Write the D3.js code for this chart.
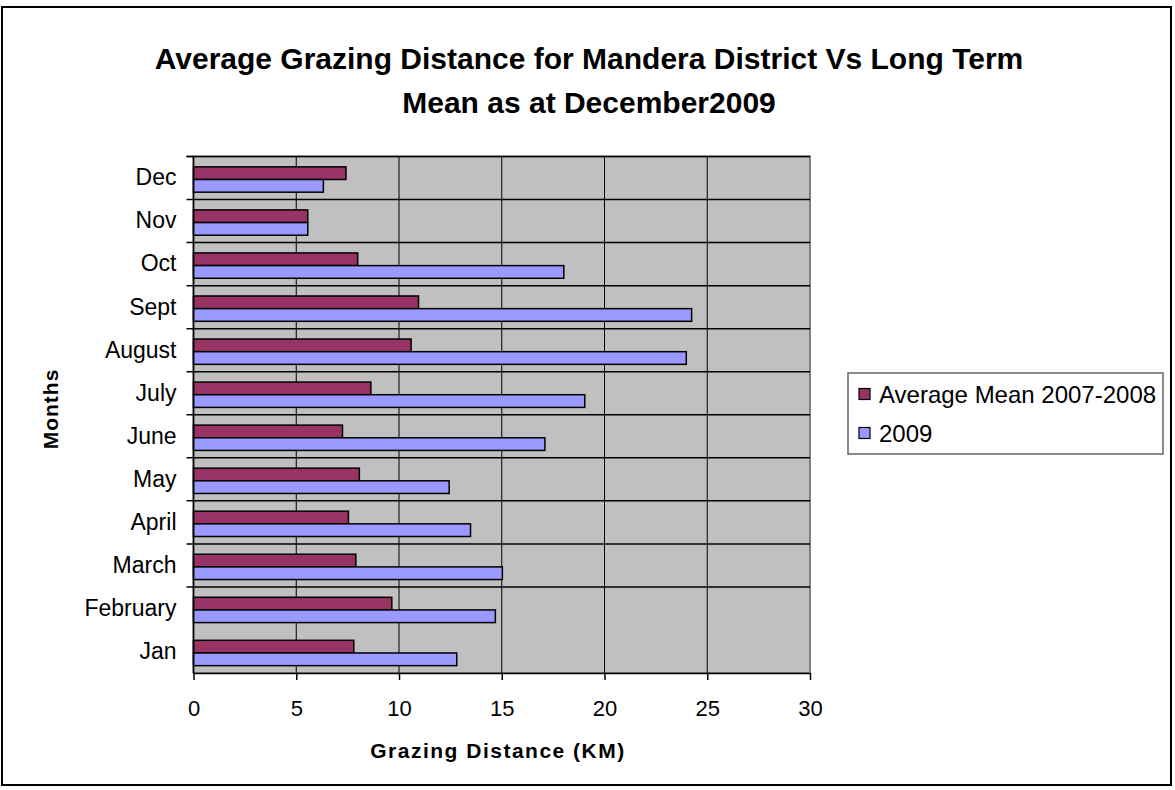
<!DOCTYPE html>
<html>
<head>
<meta charset="utf-8">
<script src="https://cdn.jsdelivr.net/npm/d3@7"></script>
<style>
  body { margin: 0; background: #fff; }
  text { font-family: "Liberation Sans", Arial, sans-serif; fill: #000; }
</style>
</head>
<body>
<svg id="chart" width="1175" height="790"></svg>
<script>
// months, bottom to top as in the chart
var months = ['Jan', 'February', 'March', 'April', 'May', 'June', 'July', 'August', 'Sept', 'Oct', 'Nov', 'Dec'];
var seriesNames = ['Average Mean 2007-2008', '2009'];
var avgMean = [7.8, 9.65, 7.9, 7.54, 8.07, 7.25, 8.63, 10.59, 10.95, 7.99, 5.56, 7.42];
var year2009 = [12.81, 14.69, 15.03, 13.48, 12.44, 17.1, 19.04, 23.98, 24.24, 18.02, 5.56, 6.32];
var xTicks = [0, 5, 10, 15, 20, 25, 30];
var colors = ['#993366', '#9999FF'];

var svg = d3.select('#chart');

var plot = { left: 193.5, top: 156.5, right: 810, bottom: 673 };

// outer frame
svg.append('rect')
	.attr('x', 2).attr('y', 7)
	.attr('width', 1169).attr('height', 778)
	.attr('fill', 'white').attr('stroke', 'black').attr('stroke-width', 2);

// title
var title = svg.append('text')
	.attr('text-anchor', 'middle')
	.style('font-size', '30px').style('font-weight', 'bold');
title.append('tspan').attr('x', 589).attr('y', 69).text('Average Grazing Distance for Mandera District Vs Long Term');
title.append('tspan').attr('x', 589).attr('y', 113).text('Mean as at December2009');

var x = d3.scaleLinear().domain([0, 30]).range([plot.left, plot.right]);
var y = d3.scaleBand().domain(months.slice().reverse()).range([plot.top, plot.bottom]);
var inner = d3.scaleBand().domain(seriesNames).range([0, y.bandwidth()]).paddingOuter(0.7);

// plot background
svg.append('rect')
	.attr('x', plot.left).attr('y', plot.top)
	.attr('width', plot.right - plot.left).attr('height', plot.bottom - plot.top)
	.attr('fill', '#C0C0C0').attr('stroke', '#808080').attr('stroke-width', 2);

// gridlines
svg.append('g').selectAll('line.v').data(xTicks.slice(1, -1)).enter().append('line')
	.attr('x1', function(d) { return x(d); }).attr('x2', function(d) { return x(d); })
	.attr('y1', plot.top).attr('y2', plot.bottom)
	.attr('stroke', 'black').attr('stroke-width', 1);

var bounds = months.map(function(m) { return y(m); });
svg.append('g').selectAll('line.h').data(bounds.slice(1)).enter().append('line')
	.attr('x1', plot.left - 7).attr('x2', plot.right)
	.attr('y1', function(d) { return d; }).attr('y2', function(d) { return d; })
	.attr('stroke', 'black').attr('stroke-width', 1.5);

// bars
var rows = months.map(function(m, i) { return { month: m, values: [avgMean[i], year2009[i]] }; });
var groups = svg.append('g').selectAll('g').data(rows).enter().append('g')
	.attr('transform', function(d) { return 'translate(0,' + (y(d.month) + 1.5) + ')'; });
groups.selectAll('rect').data(function(d) { return d.values; }).enter().append('rect')
	.attr('x', x(0))
	.attr('y', function(d, i) { return inner(seriesNames[i]); })
	.attr('width', function(d) { return x(d) - x(0); })
	.attr('height', inner.bandwidth())
	.attr('fill', function(d, i) { return colors[i]; })
	.attr('stroke', 'black').attr('stroke-width', 1.5);

// y axis
var yAxis = svg.append('g')
	.attr('transform', 'translate(' + plot.left + ',0)')
	.call(d3.axisLeft(y).tickSize(0).tickPadding(17));
yAxis.select('.domain').remove();
yAxis.selectAll('text').style('font-size', '23px').style('font-family', '"Liberation Sans", Arial, sans-serif');
svg.append('line')
	.attr('x1', plot.left).attr('x2', plot.left)
	.attr('y1', plot.top).attr('y2', plot.bottom)
	.attr('stroke', 'black').attr('stroke-width', 1.5);
svg.append('line')
	.attr('x1', plot.left - 7).attr('x2', plot.left)
	.attr('y1', plot.top).attr('y2', plot.top)
	.attr('stroke', 'black').attr('stroke-width', 1.5);

// x axis
var xAxis = svg.append('g')
	.attr('transform', 'translate(0,' + plot.bottom + ')')
	.call(d3.axisBottom(x).tickValues(xTicks).tickSize(7).tickPadding(20).tickSizeOuter(0));
xAxis.select('.domain').attr('stroke-width', 1.5);
xAxis.selectAll('line').attr('stroke-width', 1.5);
xAxis.selectAll('text').style('font-size', '22px').style('font-family', '"Liberation Sans", Arial, sans-serif');

// axis titles
svg.append('text')
	.attr('x', 498).attr('y', 758)
	.attr('text-anchor', 'middle')
	.style('font-size', '21px').style('font-weight', 'bold').style('letter-spacing', '1.5px')
	.text('Grazing Distance (KM)');

svg.append('text')
	.attr('transform', 'translate(58,409) rotate(-90)')
	.attr('text-anchor', 'middle')
	.style('font-size', '21px').style('font-weight', 'bold').style('letter-spacing', '1px')
	.text('Months');

// legend
var legend = svg.append('g').attr('transform', 'translate(848,373)');
legend.append('rect')
	.attr('width', 315).attr('height', 81)
	.attr('fill', 'white').attr('stroke', '#666').attr('stroke-width', 1.5);
var items = legend.selectAll('g').data(seriesNames).enter().append('g')
	.attr('transform', function(d, i) { return 'translate(11,' + (21 + i * 39) + ')'; });
items.append('rect')
	.attr('x', 0).attr('y', -5.5).attr('width', 11).attr('height', 11)
	.attr('fill', function(d, i) { return colors[i]; })
	.attr('stroke', 'black').attr('stroke-width', 1.2);
items.append('text')
	.attr('x', 20).attr('y', 8.5)
	.style('font-size', '24px')
	.text(function(d) { return d; });
</script>
</body>
</html>
